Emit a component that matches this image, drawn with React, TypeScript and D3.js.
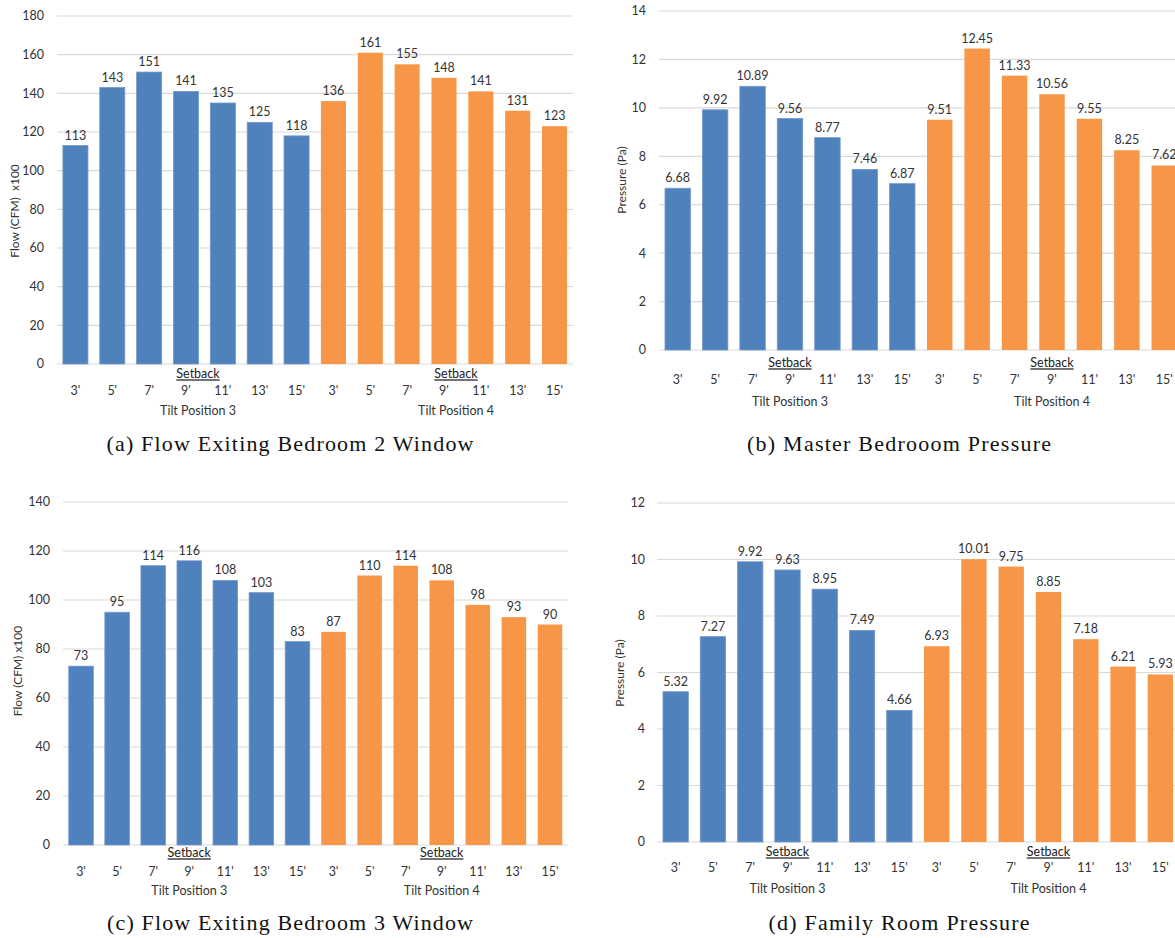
import React from "react";
import * as d3 from "d3";

// ---------- DATA ----------
const categories = ["3'", "5'", "7'", "9'", "11'", "13'", "15'"];
const groups = ["Tilt Position 3", "Tilt Position 4"];
const setbackLabel = "Setback";

const flowBedroom2 = [113, 143, 151, 141, 135, 125, 118, 136, 161, 155, 148, 141, 131, 123];
const masterPressure = [6.68, 9.92, 10.89, 9.56, 8.77, 7.46, 6.87, 9.51, 12.45, 11.33, 10.56, 9.55, 8.25, 7.62];
const flowBedroom3 = [73, 95, 114, 116, 108, 103, 83, 87, 110, 114, 108, 98, 93, 90];
const familyPressure = [5.32, 7.27, 9.92, 9.63, 8.95, 7.49, 4.66, 6.93, 10.01, 9.75, 8.85, 7.18, 6.21, 5.93];

const ticksA = [0, 20, 40, 60, 80, 100, 120, 140, 160, 180];
const ticksB = [0, 2, 4, 6, 8, 10, 12, 14];
const ticksC = [0, 20, 40, 60, 80, 100, 120, 140];
const ticksD = [0, 2, 4, 6, 8, 10, 12];

const captions = [
  "(a) Flow Exiting Bedroom 2 Window",
  "(b) Master Bedrooom Pressure",
  "(c) Flow Exiting Bedroom 3 Window",
  "(d) Family Room Pressure",
];
const yTitles = ["Flow (CFM)  x100", "Pressure (Pa)", "Flow (CFM) x100", "Pressure (Pa)"];

// ---------- STYLE ----------
const BLUE = "#4F81BD";
const ORANGE = "#F79646";
const GRID = "#D9D9D9";
const TEXT = "#333";
const FONT = "Lato, 'Liberation Sans', sans-serif";
const SERIF = "'Liberation Serif', 'DejaVu Serif', serif";

type Layout = {
  x0: number; x1: number; gridEnd: number;
  yTop: number; yZero: number;
  tickX: number;
  setY: number; catY: number; tiltY: number; groupShift: number;
  titleX: number; titleY: number;
  capX: number; capY: number; capW: number;
  fmt: (v: number) => string;
};

function Panel({ values, ticks, layout, caption, yTitle }: { values: number[]; ticks: number[]; layout: Layout; caption: string; yTitle: string }) {
  const L = layout;
  const idx = d3.range(values.length);
  const x = d3.scaleBand<number>().domain(idx).range([L.x0, L.x1]).paddingInner(0.32).paddingOuter(0.16);
  const maxT = ticks[ticks.length - 1];
  const y = d3.scaleLinear().domain([0, maxT]).range([L.yZero, L.yTop]);
  const n = categories.length;
  const groupCenter = (g: number) => {
    const a = x(g * n)!;
    const b = x(g * n + n - 1)! + x.bandwidth();
    return (a + b) / 2;
  };
  return (
    <g fontFamily={FONT} fill={TEXT}>
      {ticks.map((t) => (
        <g key={t}>
          <line x1={L.x0} x2={L.gridEnd} y1={y(t)} y2={y(t)} stroke={GRID} strokeWidth={1.2} />
          <text x={L.tickX} y={y(t)} dy="0.35em" textAnchor="end" fontSize={12.5}>{t}</text>
        </g>
      ))}
      {values.map((v, i) => (
        <g key={i}>
          <rect
            x={x(i)!}
            y={y(v)}
            width={x.bandwidth()}
            height={y(0) - y(v)}
            fill={i < n ? BLUE : ORANGE}
            stroke={i < n ? "#7398C8" : "none"}
            strokeWidth={0.8}
          />
          <text x={x(i)! + x.bandwidth() / 2} y={y(v) - 6} textAnchor="middle" fontSize={12.5}>{L.fmt(v)}</text>
          <text x={x(i)! + x.bandwidth() / 2} y={L.catY} dy="0.35em" textAnchor="middle" fontSize={12.5}>{categories[i % n]}</text>
        </g>
      ))}
      {groups.map((g, gi) => (
        <g key={g}>
          <text x={groupCenter(gi) + L.groupShift} y={L.setY} dy="0.35em" textAnchor="middle" fontSize={12.5} textDecoration="underline" fill="#222">{setbackLabel}</text>
          <text x={groupCenter(gi) + L.groupShift} y={L.tiltY} dy="0.35em" textAnchor="middle" fontSize={12.5}>{g}</text>
        </g>
      ))}
      <text transform={`translate(${L.titleX},${L.titleY}) rotate(-90)`} dy="0.35em" textAnchor="middle" fontSize={12} style={{ whiteSpace: "pre" }}>{yTitle}</text>
      <text x={L.capX} y={L.capY} dy="0.35em" textAnchor="middle" fontFamily={SERIF} fontSize={22} fill="#111" textLength={L.capW} lengthAdjust="spacing">{caption}</text>
    </g>
  );
}

const fmtInt = (v: number) => d3.format("d")(v);
const fmt2 = (v: number) => d3.format(".2f")(v);

const layouts: Layout[] = [
  { x0: 57, x1: 573, gridEnd: 573, yTop: 16, yZero: 364, tickX: 44, setY: 374, catY: 391, tiltY: 411, groupShift: 12, titleX: 15, titleY: 211, capX: 290, capY: 443, capW: 367, fmt: fmtInt },
  { x0: 659, x1: 1183, gridEnd: 1183, yTop: 11, yZero: 350, tickX: 646, setY: 363, catY: 380, tiltY: 402, groupShift: 0, titleX: 622, titleY: 180, capX: 899, capY: 443, capW: 304, fmt: fmt2 },
  { x0: 63, x1: 568, gridEnd: 568, yTop: 502, yZero: 845, tickX: 50, setY: 853, catY: 872, tiltY: 891, groupShift: 0, titleX: 18, titleY: 671, capX: 290, capY: 922, capW: 366, fmt: fmtInt },
  { x0: 657, x1: 1179, gridEnd: 1179, yTop: 503, yZero: 842, tickX: 645, setY: 852, catY: 868, tiltY: 889, groupShift: 0, titleX: 620, titleY: 673, capX: 899, capY: 922, capW: 261, fmt: fmt2 },
];

export default function App() {
  const datasets = [flowBedroom2, masterPressure, flowBedroom3, familyPressure];
  const tickSets = [ticksA, ticksB, ticksC, ticksD];
  return (
    <svg width={1175} height={938} style={{ position: "absolute", left: 0, top: 0, background: "#fff" }}>
      <rect width={1175} height={938} fill="#fff" />
      {datasets.map((d, i) => (
        <Panel key={i} values={d} ticks={tickSets[i]} layout={layouts[i]} caption={captions[i]} yTitle={yTitles[i]} />
      ))}
    </svg>
  );
}
